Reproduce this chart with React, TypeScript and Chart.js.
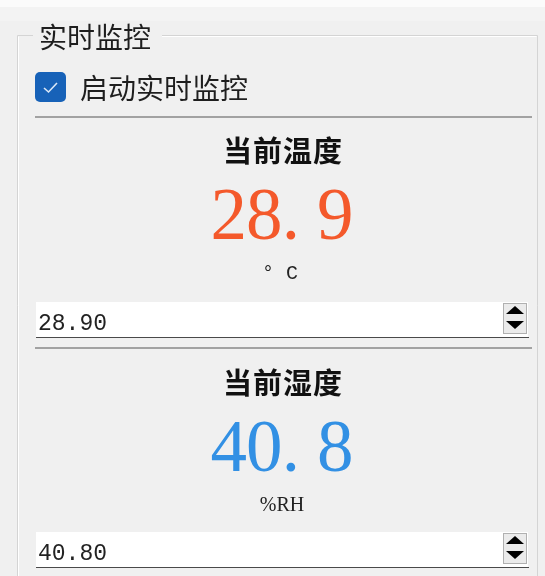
import React, { useEffect, useRef } from "react";
import { Chart, registerables } from "chart.js";

Chart.register(...registerables);

const groupTitle = "实时监控";
const checkboxLabel = "启动实时监控";
const readingLabels = ["当前温度", "当前湿度"];
const readingValues = [28.9, 40.8];
const readingUnits = ["° C", "%RH"];
const readingColors = ["#f4592b", "#3290e4"];
const spinTexts = ["28.90", "40.80"];

const W = 545;
const H = 576;
const CX = 283;

function drawMono(ctx: CanvasRenderingContext2D, text: string, x: number, y: number, adv: number, dotShift = 0) {
  ctx.textAlign = "center";
  for (let i = 0; i < text.length; i++) {
    const ch = text[i];
    ctx.fillText(ch, x + adv * i + adv / 2 + (ch === "." ? dotShift : 0), y);
  }
}

const panelPlugin = {
  id: "panel",
  beforeDraw(chart: any) {
    const ctx: CanvasRenderingContext2D = chart.ctx;
    ctx.save();
    // background
    ctx.fillStyle = "#f0f0f0";
    ctx.fillRect(0, 0, W, H);
    ctx.fillStyle = "#fbfbfb";
    ctx.fillRect(0, 0, W, 7);
    ctx.fillStyle = "#f3f3f3";
    ctx.fillRect(0, 7, W, 14);

    // group box frame
    ctx.strokeStyle = "#d4d4d4";
    ctx.lineWidth = 1;
    ctx.beginPath();
    ctx.moveTo(17.5, 576);
    ctx.lineTo(17.5, 35.5);
    ctx.lineTo(33, 35.5);
    ctx.moveTo(162, 35.5);
    ctx.lineTo(537.5, 35.5);
    ctx.lineTo(537.5, 576);
    ctx.stroke();
    ctx.strokeStyle = "#ffffff";
    ctx.beginPath();
    ctx.moveTo(18.5, 576);
    ctx.lineTo(18.5, 36.5);
    ctx.moveTo(162, 36.5);
    ctx.lineTo(536.5, 36.5);
    ctx.stroke();

    // group title
    ctx.fillStyle = "#1e1e1e";
    ctx.font = "400 28px 'Noto Sans CJK SC'";
    ctx.textAlign = "left";
    ctx.textBaseline = "middle";
    ctx.fillText(groupTitle, 39, 37);

    // checkbox
    ctx.fillStyle = "#1762b8";
    ctx.beginPath();
    (ctx as any).roundRect(35, 72, 31, 30, 5);
    ctx.fill();
    ctx.strokeStyle = "#dbe8f7";
    ctx.lineWidth = 1.6;
    ctx.beginPath();
    ctx.moveTo(44, 88);
    ctx.lineTo(48.5, 92);
    ctx.lineTo(57, 83);
    ctx.stroke();
    ctx.fillStyle = "#1e1e1e";
    ctx.font = "400 28px 'Noto Sans CJK SC'";
    ctx.fillText(checkboxLabel, 80, 88);

    const vals: number[] = chart.data.datasets[0].data;

    for (let i = 0; i < vals.length; i++) {
      const off = i * 231;
      const offN = i * 232;
      // separator
      ctx.strokeStyle = "#a2a2a2";
      ctx.lineWidth = 2;
      ctx.beginPath();
      ctx.moveTo(35, 117 + off);
      ctx.lineTo(532, 117 + off);
      ctx.stroke();

      // title
      ctx.fillStyle = "#111111";
      ctx.font = "700 29px 'Noto Sans CJK SC'";
      ctx.textAlign = "center";
      ctx.textBaseline = "middle";
      (ctx as any).letterSpacing = "1px";
      ctx.fillText(chart.data.labels[i], CX, 151 + offN);
      (ctx as any).letterSpacing = "0px";

      // big number
      ctx.fillStyle = readingColors[i];
      ctx.font = "400 73px 'Liberation Serif'";
      ctx.textBaseline = "alphabetic";
      const txt = vals[i].toFixed(1);
      drawMono(ctx, txt, 211, 239 + offN, 35.5, -9);

      // unit
      ctx.fillStyle = "#222222";
      if (i === 0) {
        ctx.font = "400 20px 'Liberation Mono'";
        drawMono(ctx, readingUnits[i], 280 - 18, 279, 12);
      } else {
        ctx.font = "400 20px 'Liberation Serif'";
        ctx.textAlign = "center";
        ctx.fillText(readingUnits[i], CX - 1, 511);
      }

      // spin box
      const sy = 302 + i * 230;
      ctx.fillStyle = "#ffffff";
      ctx.fillRect(36, sy, 492, 35);
      ctx.strokeStyle = "#4a4a4a";
      ctx.lineWidth = 1;
      ctx.beginPath();
      ctx.moveTo(36, sy + 35.5);
      ctx.lineTo(529, sy + 35.5);
      ctx.stroke();
      ctx.fillStyle = "#ebebeb";
      ctx.fillRect(503, sy + 1, 24, 31);
      ctx.strokeStyle = "#b0b0b0";
      ctx.strokeRect(503.5, sy + 1.5, 23, 30);
      ctx.fillStyle = "#000000";
      ctx.beginPath();
      ctx.moveTo(515, sy + 4);
      ctx.lineTo(524, sy + 12);
      ctx.lineTo(506, sy + 12);
      ctx.closePath();
      ctx.fill();
      ctx.beginPath();
      ctx.moveTo(506, sy + 19);
      ctx.lineTo(524, sy + 19);
      ctx.lineTo(515, sy + 27);
      ctx.closePath();
      ctx.fill();

      ctx.fillStyle = "#222222";
      ctx.font = "400 23px 'Liberation Mono'";
      ctx.textBaseline = "alphabetic";
      drawMono(ctx, spinTexts[i], 38, sy + 28, 13.8);
    }
    ctx.restore();
  },
};

export default function App() {
  const ref = useRef<HTMLCanvasElement | null>(null);
  useEffect(() => {
    if (!ref.current) return;
    const chart = new Chart(ref.current, {
      type: "bar",
      data: {
        labels: readingLabels,
        datasets: [
          {
            data: readingValues,
            backgroundColor: "rgba(0,0,0,0)",
            borderWidth: 0,
          },
        ],
      },
      options: {
        animation: false,
        responsive: false,
        events: [],
        layout: { padding: 0 },
        plugins: { legend: { display: false }, tooltip: { enabled: false }, title: { display: false } },
        scales: { x: { display: false }, y: { display: false } },
      },
      plugins: [panelPlugin],
    });
    return () => chart.destroy();
  }, []);
  return (
    <div style={{ position: "fixed", left: 0, top: 0, width: W, height: H, background: "#f0f0f0" }}>
      <canvas ref={ref} width={W} height={H} style={{ display: "block", width: W, height: H }} />
    </div>
  );
}
